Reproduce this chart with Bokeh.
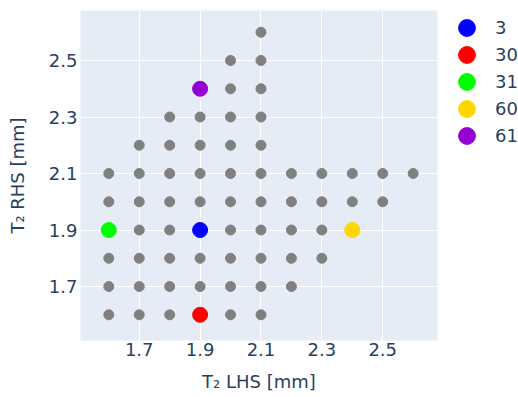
from bokeh.plotting import figure
from bokeh.models import Range1d, FixedTicker, Legend, LegendItem
from bokeh.embed import file_html
from bokeh.resources import INLINE

# Gray grid of evaluated points (T2 LHS, T2 RHS) in mm
lhs = [2.1,
       2.0, 2.1,
       1.9, 2.0, 2.1,
       1.8, 1.9, 2.0, 2.1,
       1.7, 1.8, 1.9, 2.0, 2.1,
       1.6, 1.7, 1.8, 1.9, 2.0, 2.1, 2.2, 2.3, 2.4, 2.5, 2.6,
       1.6, 1.7, 1.8, 1.9, 2.0, 2.1, 2.2, 2.3, 2.4, 2.5,
       1.6, 1.7, 1.8, 1.9, 2.0, 2.1, 2.2, 2.3, 2.4,
       1.6, 1.7, 1.8, 1.9, 2.0, 2.1, 2.2, 2.3,
       1.6, 1.7, 1.8, 1.9, 2.0, 2.1, 2.2,
       1.6, 1.7, 1.8, 1.9, 2.0, 2.1]
rhs = [2.6,
       2.5, 2.5,
       2.4, 2.4, 2.4,
       2.3, 2.3, 2.3, 2.3,
       2.2, 2.2, 2.2, 2.2, 2.2,
       2.1, 2.1, 2.1, 2.1, 2.1, 2.1, 2.1, 2.1, 2.1, 2.1, 2.1,
       2.0, 2.0, 2.0, 2.0, 2.0, 2.0, 2.0, 2.0, 2.0, 2.0,
       1.9, 1.9, 1.9, 1.9, 1.9, 1.9, 1.9, 1.9, 1.9,
       1.8, 1.8, 1.8, 1.8, 1.8, 1.8, 1.8, 1.8,
       1.7, 1.7, 1.7, 1.7, 1.7, 1.7, 1.7,
       1.6, 1.6, 1.6, 1.6, 1.6, 1.6]

# Highlighted designs
ids = ["3", "30", "31", "60", "61"]
hx = [1.9, 1.9, 1.6, 2.4, 1.9]
hy = [1.9, 1.6, 1.9, 1.9, 2.4]
hcolors = ["#0000ff", "#ff0000", "#00ff00", "#ffd700", "#9400d3"]

x_ticks = [1.7, 1.9, 2.1, 2.3, 2.5]
y_ticks = [1.7, 1.9, 2.1, 2.3, 2.5]

FONT = "DejaVu Sans"
TXT = "#2a3f5f"
FS = "18px"

p = figure(frame_width=357, frame_height=330,
           min_border_left=80, min_border_right=80,
           min_border_top=10, min_border_bottom=56,
           x_range=Range1d(1.507, 2.68), y_range=Range1d(1.509, 2.677),
           output_backend="svg", toolbar_location=None)
p.background_fill_color = "#e5ecf6"
p.border_fill_color = "white"
p.outline_line_color = None

p.scatter(lhs, rhs, size=10, color="#808080")

items = []
for i in range(len(ids)):
    r = p.ellipse([hx[i]], [hy[i]], width=15, height=15,
                  width_units="screen", height_units="screen",
                  fill_color=hcolors[i], line_color=hcolors[i])
    items.append(LegendItem(label=ids[i], renderers=[r]))

for ax, ticks, lab in ((p.xaxis, x_ticks, "T\u2082 LHS [mm]"),
                       (p.yaxis, y_ticks, "T\u2082 RHS [mm]")):
    ax.ticker = FixedTicker(ticks=ticks)
    ax.axis_label = lab
    ax.axis_line_color = None
    ax.major_tick_line_color = None
    ax.minor_tick_line_color = None
    ax.major_tick_out = 0
    ax.major_tick_in = 0
    ax.major_label_text_font = FONT
    ax.major_label_text_font_size = FS
    ax.major_label_text_color = TXT
    ax.axis_label_text_font = FONT
    ax.axis_label_text_font_size = FS
    ax.axis_label_text_font_style = "normal"
    ax.axis_label_text_color = TXT

p.xaxis.major_label_standoff = 2
p.xaxis.axis_label_standoff = 12
p.yaxis.major_label_standoff = 3
p.yaxis.axis_label_standoff = 18

p.xgrid.ticker = FixedTicker(ticks=x_ticks)
p.ygrid.ticker = FixedTicker(ticks=y_ticks)
for g in (p.xgrid, p.ygrid):
    g.grid_line_color = "white"
    g.grid_line_width = 1

legend = Legend(items=items, location=(19, 194),
                glyph_width=21, glyph_height=21, spacing=6,
                label_standoff=18, padding=0, margin=0,
                border_line_color=None, background_fill_alpha=0,
                label_text_font=FONT, label_text_font_size=FS,
                label_text_color=TXT)
p.add_layout(legend, "right")

open("out.html", "w").write(file_html(p, INLINE))
